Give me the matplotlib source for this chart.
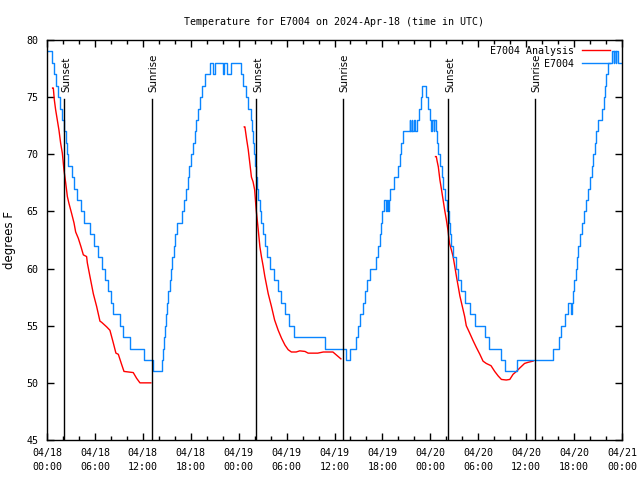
import matplotlib
matplotlib.use("Agg")
import matplotlib.pyplot as plt
import matplotlib.transforms as mtransforms
import numpy as np

# ---- data (hours since 2024-04-18 00:00 UTC) ----
blue_t = [0.0, 0.58, 0.88, 1.13, 1.42, 1.63, 1.84, 2.17, 2.34, 2.50, 2.67, 3.09, 3.42, 3.71, 4.26,
          4.67, 5.38, 5.92, 6.43, 6.84, 7.26, 7.68, 7.97, 8.30, 9.14, 9.55, 10.39, 12.2, 13.3,
          14.35, 14.48, 14.6, 14.73, 14.85, 15.0, 15.2, 15.35, 15.52, 15.69, 15.85, 16.06, 16.31,
          16.9, 17.15, 17.4, 17.6, 17.81, 18.02, 18.23, 18.48, 18.69, 18.9, 19.15, 19.44, 19.78,
          20.4, 20.73, 21.02, 22.06, 22.19, 22.48, 23.1,
          24.3, 24.6, 24.9, 25.15, 25.5, 25.7, 25.85, 25.95, 26.05, 26.15, 26.3, 26.45, 26.65,
          26.85, 27.05, 27.25, 27.5, 27.9, 28.4, 28.9, 29.3, 29.8, 30.3, 30.9, 34.8, 37.4, 37.95,
          38.67, 38.96, 39.25, 39.59, 39.8, 40.1, 40.5, 41.2, 41.45, 41.65, 41.85, 42.0, 42.2,
          42.5, 42.6, 42.7, 42.8, 42.95, 43.5, 43.95, 44.15, 44.35, 44.55,
          45.4, 45.5, 45.65, 45.75, 45.9, 46.1, 46.3, 46.6, 46.8, 47.0, 47.5, 47.7, 47.9,
          48.1, 48.25, 48.4, 48.5, 48.65, 48.85, 48.98, 49.2, 49.4, 49.6, 49.85, 50.05, 50.3,
          50.5, 50.65, 50.9, 51.2, 51.5, 51.8, 52.3, 53.0, 53.6, 54.9, 55.3, 56.8, 57.4, 58.9,
          63.3, 64.1, 64.4, 64.8, 65.2, 65.6, 65.7, 65.85, 66.0, 66.2, 66.4, 66.55, 66.7, 67.0,
          67.3, 67.5, 67.75, 68.0, 68.2, 68.4, 68.6, 68.75, 68.95, 69.5, 69.7, 69.85, 70.05,
          70.25, 70.8, 70.95, 71.05, 71.2, 71.3, 71.45, 72.0]
blue_v = [79, 78, 77, 76, 75, 74, 73, 72, 71, 70, 69, 68, 67, 66, 65,
          64, 63, 62, 61, 60, 59, 58, 57, 56, 55, 54, 53, 52, 51,
          52, 53, 54, 55, 56, 57, 58, 59, 60, 61, 62, 63, 64,
          65, 66, 67, 68, 69, 70, 71, 72, 73, 74, 75, 76, 77,
          78, 77, 78, 77, 78, 77, 78,
          77, 76, 75, 74, 73, 72, 71, 70, 69, 68, 67, 66, 65,
          64, 63, 62, 61, 60, 59, 58, 57, 56, 55, 54, 53, 52, 53,
          54, 55, 56, 57, 58, 59, 60, 61, 62, 63, 64, 65, 66,
          65, 66, 65, 66, 67, 68, 69, 70, 71, 72,
          73, 72, 73, 72, 73, 72, 73, 74, 75, 76, 75, 74, 73,
          72, 73, 72, 73, 72, 71, 70, 69, 68, 67, 66, 65, 64,
          63, 62, 61, 60, 59, 58, 57, 56, 55, 54, 53, 52, 51, 52,
          53, 54, 55, 56, 57, 56, 57, 58, 59, 60, 61, 62, 63, 64,
          65, 66, 67, 68, 69, 70, 71, 72, 73, 74, 75, 76, 77,
          78, 79, 78, 79, 78, 79, 78, 78]

red1_t = [0.7, 0.79, 0.92, 1.08, 1.29, 1.5, 1.71, 1.92, 2.13, 2.34, 2.55, 2.75, 3.09, 3.38, 3.59,
          3.92, 4.26, 4.55, 4.96, 5.05, 5.38, 5.8, 6.21, 6.63, 6.84, 7.47, 7.88, 8.3, 8.63, 8.93,
          9.35, 9.64, 10.8, 11.22, 11.64, 13.0]
red1_v = [75.8, 75.8, 74.75, 73.9, 73.0, 72.1, 70.96, 70.1, 68.6, 67.5, 66.3, 65.7, 64.8, 64.0, 63.2,
          62.65, 61.9, 61.2, 61.05, 60.5, 59.3, 57.8, 56.7, 55.4, 55.3, 54.9, 54.6, 53.5, 52.6, 52.5,
          51.6, 51.0, 50.9, 50.4, 50.0, 50.0]
red2_t = [24.7, 24.78, 25.0, 25.2, 25.4, 25.6, 25.8, 26.0, 26.2, 26.45, 26.66, 26.85, 27.07, 27.28,
          27.7, 28.1, 28.5, 28.95, 29.37, 29.8, 30.2, 30.6, 31.2, 31.65, 32.3, 32.7, 33.9, 34.6,
          35.8, 36.3, 36.8]
red2_v = [72.4, 72.4, 71.3, 70.4, 69.2, 68.0, 67.6, 66.9, 65.1, 63.4, 61.9, 61.05, 60.2, 59.3,
          57.8, 56.7, 55.5, 54.6, 53.9, 53.3, 52.9, 52.7, 52.7, 52.8, 52.75, 52.6, 52.6, 52.7,
          52.7, 52.4, 52.1]
red3_t = [48.65, 48.75, 48.85, 49.0, 49.2, 49.4, 49.6, 49.8, 50.0, 50.2, 50.4, 50.65, 50.85, 51.06,
          51.27, 51.5, 51.7, 51.9, 52.1, 52.3, 52.5, 52.9, 53.35, 53.76, 54.2, 54.6, 55.0, 55.6,
          56.06, 56.5, 56.9, 57.5, 57.95, 58.36, 58.78, 59.2, 59.8, 60.25, 60.86]
red3_v = [69.8, 69.8, 69.4, 68.9, 67.75, 66.9, 66.0, 65.1, 64.3, 63.4, 62.2, 61.6, 61.05, 60.2,
          59.3, 58.4, 57.6, 57.0, 56.4, 55.8, 55.0, 54.4, 53.7, 53.1, 52.5, 51.9, 51.7, 51.5,
          51.0, 50.6, 50.3, 50.25, 50.3, 50.75, 51.0, 51.3, 51.7, 51.8, 51.9]

sunset_t = [2.17, 26.2, 50.22]
sunrise_t = [13.2, 37.08, 61.1]

xtick_pos = [0, 6, 12, 18, 24, 30, 36, 42, 48, 54, 60, 66, 72]
xtick_labels = ["04/18\n00:00", "04/18\n06:00", "04/18\n12:00", "04/18\n18:00",
                "04/19\n00:00", "04/19\n06:00", "04/19\n12:00", "04/19\n18:00",
                "04/20\n00:00", "04/20\n06:00", "04/20\n12:00", "04/20\n18:00",
                "04/21\n00:00"]
ytick_pos = [45, 50, 55, 60, 65, 70, 75, 80]

MONO = "DejaVu Sans Mono"
SANS = "DejaVu Sans"
RED = "#ff0000"
BLUE = "#0a85ff"

fig = plt.figure(figsize=(6.4, 4.8), dpi=100)
ax = fig.add_axes([47 / 640, 40 / 480, 575 / 640, 400 / 480])

ax.plot(red1_t, red1_v, color=RED, lw=1.0, label="E7004 Analysis")
ax.plot(red2_t, red2_v, color=RED, lw=1.0)
ax.plot(red3_t, red3_v, color=RED, lw=1.0)
ax.plot(blue_t, blue_v, color=BLUE, lw=1.0, drawstyle="steps-post", label="         E7004")

line_top = 1 - 59 / 400
trans = mtransforms.blended_transform_factory(ax.transData, ax.transAxes)
for t in sunset_t:
    ax.axvline(t, ymin=0, ymax=line_top, color="black", lw=1.0)
    ax.text(t, 0.87, "Sunset", rotation=90, ha="center", va="bottom",
            transform=mtransforms.offset_copy(trans, fig=fig, x=2, y=0, units="dots"),
            fontsize=7.4, family=SANS)
for t in sunrise_t:
    ax.axvline(t, ymin=0, ymax=line_top, color="black", lw=1.0)
    ax.text(t, 0.87, "Sunrise", rotation=90, ha="center", va="bottom",
            transform=mtransforms.offset_copy(trans, fig=fig, x=1, y=0, units="dots"),
            fontsize=7.4, family=SANS)

ax.set_xlim(0, 72)
ax.set_ylim(45, 80)
ax.set_xticks(xtick_pos)
ax.set_xticklabels(xtick_labels, family=MONO, fontsize=7.2, linespacing=1.45)
ax.set_xticks(np.arange(0, 73, 2), minor=True)
ax.set_yticks(ytick_pos)
ax.set_yticklabels([str(v) for v in ytick_pos], family=MONO, fontsize=7.2)
ax.tick_params(which="major", direction="in", length=5, width=1, top=True, right=True, pad=6)
ax.tick_params(which="minor", direction="in", length=3, width=1, top=True, right=True)
ax.tick_params(axis="x", which="major", pad=6)
for s in ax.spines.values():
    s.set_linewidth(1.0)

ax.set_ylabel("degrees F", family=SANS, fontsize=8.5, labelpad=8)
ax.set_title("Temperature for E7004 on 2024-Apr-18 (time in UTC)", family=MONO,
             fontsize=7.2, pad=11)

leg = ax.legend(loc="upper right", bbox_to_anchor=(1 - 12 / 575, 1 - 6 / 400),
                frameon=False, markerfirst=False, prop={"family": MONO, "size": 7.2},
                handlelength=2.8, handletextpad=0.8, labelspacing=0.3,
                borderpad=0, borderaxespad=0)

fig.savefig("out.png", dpi=100)
